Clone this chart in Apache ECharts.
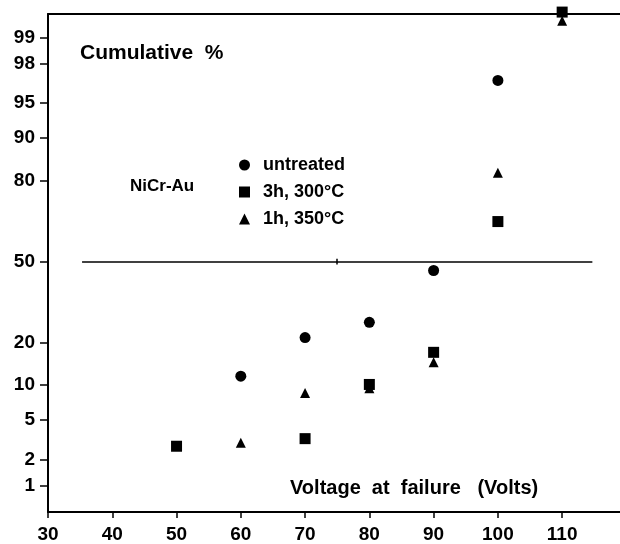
<!DOCTYPE html>
<html>
<head>
<meta charset="utf-8">
<script src="https://cdn.jsdelivr.net/npm/echarts@6/dist/echarts.min.js"></script>
<style>
  html, body { margin: 0; padding: 0; background: #fff; }
  #main { width: 620px; height: 544px; }
</style>
</head>
<body>
<div id="main"></div>
<script>
// voltage at failure (Volts) and cumulative failure %
const untreatedV = [60, 70, 80, 90, 100];
const untreatedP = [11.7, 21.5, 26.4, 46.3, 97.0];
const h3V = [50, 70, 80, 90, 100, 110];
const h3P = [2.76, 3.3, 10.1, 17.3, 66.1, 99.52];
const h1V = [60, 70, 80, 90, 100, 110];
const h1P = [3.0, 8.6, 9.4, 14.8, 82.2, 99.38];

const xTicks = [30, 40, 50, 60, 70, 80, 90, 100, 110];
const yTicks = [1, 2, 5, 10, 20, 50, 80, 90, 95, 98, 99];

// probability scale: percent -> normal quantile (Acklam)
function probit(pct) {
  const p = pct / 100;
  const a = [-3.969683028665376e+01, 2.209460984245205e+02, -2.759285104469687e+02, 1.383577518672690e+02, -3.066479806614716e+01, 2.506628277459239e+00];
  const b = [-5.447609879822406e+01, 1.615858368580409e+02, -1.556989798598866e+02, 6.680131188771972e+01, -1.328068155288572e+01];
  const c = [-7.784894002430293e-03, -3.223964580411365e-01, -2.400758277161838e+00, -2.549732539343734e+00, 4.374664141464968e+00, 2.938163982698783e+00];
  const d = [7.784695709041462e-03, 3.224671290700398e-01, 2.445134137142996e+00, 3.754408661907416e+00];
  const pl = 0.02425;
  let q, r;
  if (p < pl) {
    q = Math.sqrt(-2 * Math.log(p));
    return (((((c[0]*q+c[1])*q+c[2])*q+c[3])*q+c[4])*q+c[5]) / ((((d[0]*q+d[1])*q+d[2])*q+d[3])*q+1);
  }
  if (p <= 1 - pl) {
    q = p - 0.5; r = q * q;
    return (((((a[0]*r+a[1])*r+a[2])*r+a[3])*r+a[4])*r+a[5])*q / (((((b[0]*r+b[1])*r+b[2])*r+b[3])*r+b[4])*r+1);
  }
  q = Math.sqrt(-2 * Math.log(1 - p));
  return -(((((c[0]*q+c[1])*q+c[2])*q+c[3])*q+c[4])*q+c[5]) / ((((d[0]*q+d[1])*q+d[2])*q+d[3])*q+1);
}

function pts(vs, ps) {
  return vs.map((v, i) => [v, probit(ps[i])]);
}

const yTickZ = yTicks.map(probit);
const FONT = '"Liberation Sans", Arial, sans-serif';

const chart = echarts.init(document.getElementById('main'), null, { renderer: 'canvas' });

chart.setOption({
  animation: false,
  backgroundColor: '#fff',
  textStyle: { fontFamily: FONT, color: '#000' },
  grid: {
    left: 48, right: 0, top: 14, bottom: 32,
    containLabel: false,
    outerBoundsMode: 'none'
  },
  legend: {
    orient: 'vertical',
    left: 234,
    top: 151,
    itemWidth: 11,
    itemHeight: 11,
    itemGap: 9,
    itemStyle: { opacity: 1 },
    textStyle: { fontFamily: FONT, fontSize: 18, fontWeight: 'bold', color: '#000', padding: [0, 0, 0, 8] },
    data: [
      { name: 'untreated', icon: 'circle' },
      { name: '3h, 300°C', icon: 'rect' },
      { name: '1h, 350°C', icon: 'triangle' }
    ]
  },
  xAxis: [{
    type: 'value',
    min: 30,
    max: 119,
    interval: 10,
    splitLine: { show: false },
    axisLine: { onZero: false, lineStyle: { color: '#000', width: 2 } },
    axisTick: { length: 6, lineStyle: { color: '#000', width: 1.5 }, customValues: xTicks },
    axisLabel: {
      margin: 13,
      fontSize: 19,
      fontWeight: 'bold',
      color: '#000',
      fontFamily: FONT,
      customValues: xTicks
    }
  }, {
    type: 'value',
    position: 'top',
    min: 30,
    max: 119,
    splitLine: { show: false },
    axisLine: { show: true, onZero: false, lineStyle: { color: '#000', width: 2 } },
    axisTick: { show: false },
    axisLabel: { show: false }
  }],
  yAxis: {
    type: 'value',
    min: -2.6,
    max: 2.57,
    splitLine: { show: false },
    axisLine: { show: true, onZero: false, lineStyle: { color: '#000', width: 2 } },
    axisTick: { length: 8, lineStyle: { color: '#000', width: 1.5 }, customValues: yTickZ },
    axisLabel: {
      margin: 13,
      fontSize: 19,
      fontWeight: 'bold',
      color: '#000',
      fontFamily: FONT,
      customValues: yTickZ,
      formatter: (val) => {
        let best = yTicks[0];
        yTicks.forEach((t) => { if (Math.abs(probit(t) - val) < Math.abs(probit(best) - val)) best = t; });
        return String(best);
      }
    }
  },
  graphic: [
    { type: 'text', left: 80, top: 43, style: { text: 'Cumulative  %', font: 'bold 21px ' + FONT, fill: '#000' } },
    { type: 'text', left: 130, top: 178, style: { text: 'NiCr-Au', font: 'bold 17px ' + FONT, fill: '#000' } },
    { type: 'text', left: 290, top: 478, style: { text: 'Voltage  at  failure   (Volts)', font: 'bold 20px ' + FONT, fill: '#000' } }
  ],
  series: [{
    name: 'untreated',
    type: 'scatter',
    symbol: 'circle',
    symbolSize: 11,
    clip: false,
    itemStyle: { color: '#000', opacity: 1 },
    data: pts(untreatedV, untreatedP),
    markLine: {
      silent: true,
      symbol: 'none',
      label: { show: false },
      lineStyle: { color: '#000', width: 1.5, type: 'solid' },
      data: [
        [{ coord: [35.3, 0] }, { coord: [114.7, 0] }],
        [{ coord: [75, -0.03] }, { coord: [75, 0.03] }]
      ]
    }
  }, {
    name: '3h, 300°C',
    type: 'scatter',
    symbol: 'rect',
    symbolSize: 11,
    clip: false,
    itemStyle: { color: '#000', opacity: 1 },
    data: pts(h3V, h3P)
  }, {
    name: '1h, 350°C',
    type: 'scatter',
    symbol: 'triangle',
    symbolSize: 10,
    clip: false,
    itemStyle: { color: '#000', opacity: 1 },
    data: pts(h1V, h1P)
  }]
});
</script>
</body>
</html>
